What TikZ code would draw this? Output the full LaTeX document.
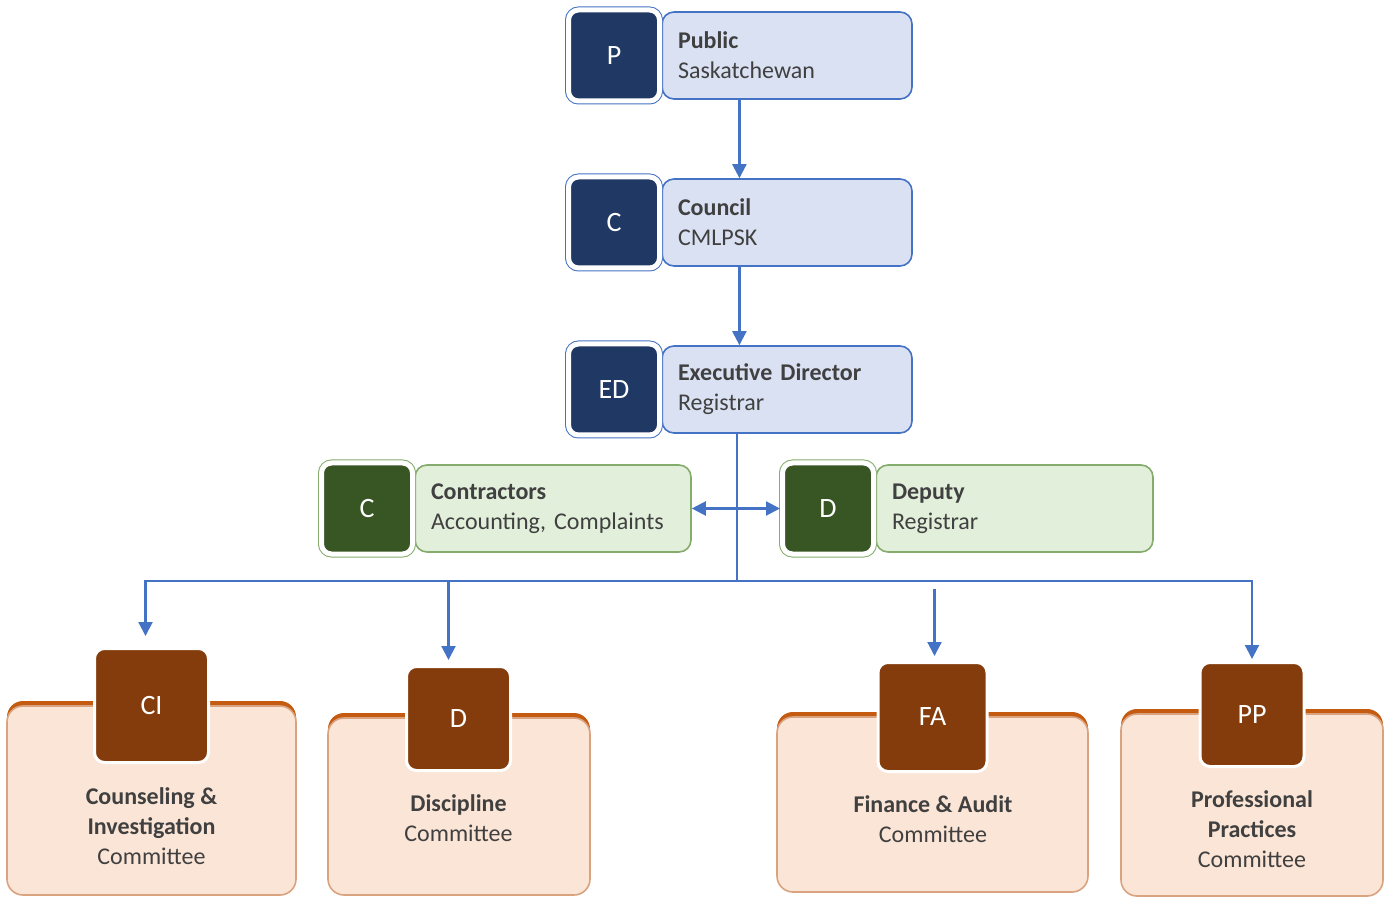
\documentclass[tikz,border=0pt]{standalone}
\usepackage{fontspec}
\setmainfont{Carlito}
\usepackage{tikz}
\usetikzlibrary{positioning, arrows.meta, calc}

\definecolor{navy}{HTML}{203864}
\definecolor{bluefill}{HTML}{DAE1F3}
\definecolor{blueline}{HTML}{4472C4}
\definecolor{greendark}{HTML}{375623}
\definecolor{greenfill}{HTML}{E2EFDA}
\definecolor{greenline}{HTML}{84AC6C}
\definecolor{browndark}{HTML}{843C0C}
\definecolor{brownfill}{HTML}{FBE5D6}
\definecolor{brownline}{HTML}{D9A37F}
\definecolor{brownedge}{HTML}{C55A11}
\definecolor{txt}{HTML}{404040}

\begin{document}
\begin{tikzpicture}[
  x=0.5pt, y=-0.5pt,
  font=\fontsize{12}{15}\selectfont,
  icon/.style={fill=#1, draw=white, line width=2.5pt, rounded corners=5pt,
    minimum size=45.5pt, inner sep=0pt, text=white,
    font=\fontsize{14}{16}\selectfont},
  framed/.style={preaction={draw=#1, line width=3.5pt}},
  card/.style={line width=0.8pt, rounded corners=6pt, minimum height=43.5pt,
    inner xsep=8pt, align=left, text=txt},
  bluecard/.style={card, draw=blueline, fill=bluefill},
  greencard/.style={card, draw=greenline, fill=greenfill},
  comm/.style={draw=brownline, fill=brownfill, line width=0.8pt,
    rounded corners=8pt, inner sep=0pt,
    preaction={fill=brownedge, transform canvas={yshift=2.5pt}}},
  cicon/.style={fill=browndark, draw=white, line width=1.5pt, rounded corners=5pt,
    inner sep=0pt, text=white, font=\fontsize{14}{16}\selectfont},
  ctext/.style={align=center, text=txt},
  link/.style={draw=blueline, line width=1.1pt},
  arrow/.style={link, -{Triangle[length=7pt, width=7pt]}},
  biarrow/.style={link, {Triangle[length=7pt, width=7pt]}-{Triangle[length=7pt, width=7pt]}},
]
  \useasboundingbox (0,0) rectangle (1392,898);

  % top column
  \node[bluecard, text width=109pt] (pub) at (787,55.5) {\textbf{Public}\\Saskatchewan};
  \node[icon=navy, framed=blueline] (pubic) at (614,55.5) {P};
  \node[bluecard, text width=109pt] (cou) at (787,222.5) {\textbf{Council}\\CMLPSK};
  \node[icon=navy, framed=blueline] (couic) at (614,222.5) {C};
  \node[bluecard, text width=109pt] (ed) at (787,389.5) {\textbf{Executive Director}\\Registrar};
  \node[icon=navy, framed=blueline] (edic) at (614,389.5) {ED};

  % side row
  \node[greencard, text width=122pt] (con) at (553,508.5) {\textbf{Contractors}\\Accounting, Complaints};
  \node[icon=greendark, framed=greenline] (conic) at (367,508.5) {C};
  \node[greencard, text width=122.5pt] (dep) at (1014.5,508.5) {\textbf{Deputy}\\Registrar};
  \node[icon=greendark, framed=greenline] (depic) at (828,508.5) {D};

  % committees
  \node[comm, minimum width=144.5pt, minimum height=94.5pt] (cibox) at (151.5,800.5) {};
  \node[cicon, minimum size=57pt] (ciic) at (151.5,705.5) {CI};
  \node[ctext] (citxt) at (151.5,826) {\textbf{Counseling \&}\\\textbf{Investigation}\\Committee};

  \node[comm, minimum width=131pt, minimum height=88.5pt] (dbox) at (459,806.5) {};
  \node[cicon, minimum size=52pt] (dic) at (458.5,718.5) {D};
  \node[ctext] (dtxt) at (458.5,818.5) {\textbf{Discipline}\\Committee};

  \node[comm, minimum width=155.5pt, minimum height=87.5pt] (fabox) at (932.5,804.5) {};
  \node[cicon, minimum size=54.5pt] (faic) at (932.5,717) {FA};
  \node[ctext] (fatxt) at (933,819.5) {\textbf{Finance \& Audit}\\Committee};

  \node[comm, minimum width=131pt, minimum height=91pt] (ppbox) at (1252,805) {};
  \node[cicon, minimum size=52pt] (ppic) at (1252,714.5) {PP};
  \node[ctext] (pptxt) at (1252,829.5) {\textbf{Professional}\\\textbf{Practices}\\Committee};

  % connectors
  \coordinate (mid) at ($(pubic.west)!.5!(pub.east)$);
  \coordinate (bus) at (737,581);
  \draw[arrow] (pub.south -| mid) -- (cou.north -| mid);
  \draw[arrow] (cou.south -| mid) -- (ed.north -| mid);
  \draw[link] (ed.south -| bus) -- (bus);
  \draw[biarrow] (con.east) -- (depic.west);
  \draw[arrow] (bus) -| ([xshift=-3pt, yshift=5.5pt]ciic.north);
  \draw[arrow] ([xshift=-5pt]bus -| dic) -- ([xshift=-5pt, yshift=2.5pt]dic.north);
  \draw[arrow] ([xshift=1pt, yshift=-4pt]bus -| faic) -- ([xshift=1pt, yshift=2.5pt]faic.north);
  \draw[arrow] (bus) -| ([yshift=1pt]ppic.north);
\end{tikzpicture}
\end{document}
